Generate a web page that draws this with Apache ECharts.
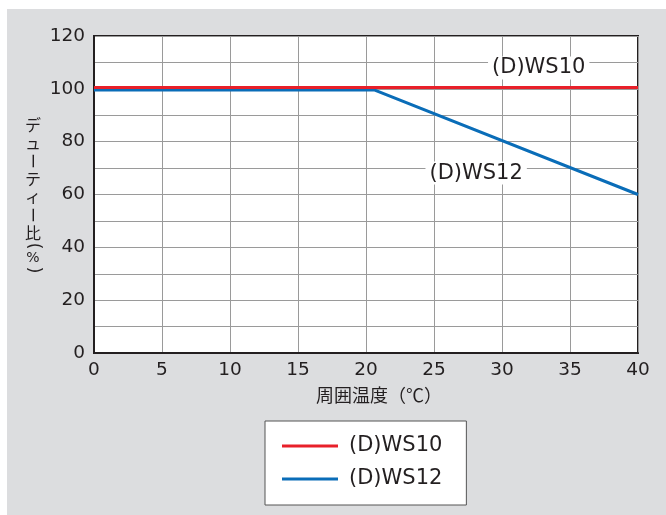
<!DOCTYPE html>
<html><head><meta charset="utf-8">
<script src="https://cdn.jsdelivr.net/npm/echarts@6/dist/echarts.min.js"></script>
<style>
html,body{margin:0;padding:0;background:#fff;}
#bg{position:absolute;left:7px;top:9px;width:659px;height:506px;background:#dcdddf;}
#c{position:absolute;left:0;top:0;width:666px;height:515px;}
</style></head>
<body><div id="bg"></div><div id="c"></div>
<script>
const temps = [0, 20.6, 40];
const ws10 = [100.5, 100.5, 100.5];
const ws12 = [99.6, 99.6, 60];
const seriesNames = ['(D)WS10', '(D)WS12'];
const labelPos10 = [32.7, 107.9];
const labelPos12 = [28.1, 68.1];
const yTicks = [0, 20, 40, 60, 80, 100, 120];
const xTicks = [0, 5, 10, 15, 20, 25, 30, 35, 40];
const xAxisName = '周囲温度（℃）';
const yAxisNameChars = ['デ', 'ュ', 'ー', 'テ', 'ィ', 'ー', '比', '(', '%', ')'];

const txt = '#231f20';
const latin = '"DejaVu Sans", "Noto Sans CJK JP", sans-serif';
const cjk = '"Noto Sans CJK JP", sans-serif';
const chart = echarts.init(document.getElementById('c'), null, {renderer: 'canvas'});

function lbl(name, pos) {
  return {
    symbol: 'rect', symbolSize: 1,
    itemStyle: {color: 'rgba(0,0,0,0)'},
    label: {show: true, position: 'inside', formatter: name, color: txt, fontSize: 21,
      fontFamily: latin, backgroundColor: '#fff', padding: [1, 4]},
    data: [{coord: pos}]
  };
}

// vertical y-axis title: upright chars, rotated brackets / long vowel marks
const rotated = new Set(['ー', '(', ')']);
const yNameGraphics = [];
let cy = 125;
yAxisNameChars.forEach((ch, i) => {
  const half = (ch === '(' || ch === ')' || ch === '%');
  if (i > 0) {
    const prevHalf = ['(', ')', '%'].includes(yAxisNameChars[i - 1]);
    cy += (half && prevHalf) ? 12 : (half ? 13 : (prevHalf ? 13 : 18));
  }
  yNameGraphics.push({
    type: 'text', x: 33, y: cy, rotation: rotated.has(ch) ? -Math.PI / 2 : 0,
    style: {text: ch, fill: txt, fontSize: ch === '%' ? 14 : (half ? 17 : 16),
      fontFamily: half ? latin : cjk,
      align: 'center', verticalAlign: 'middle'}
  });
});

chart.setOption({
  backgroundColor: 'transparent',
  animation: false,
  grid: {left: 94, right: 28, top: 36, bottom: 162, show: true, backgroundColor: '#fff',
    borderColor: txt, borderWidth: 2},
  xAxis: {
    type: 'value', min: 0, max: 40, interval: 5,
    name: xAxisName, nameLocation: 'middle', nameGap: 33,
    nameTextStyle: {color: txt, fontSize: 18, fontFamily: cjk, padding: [0, 0, 0, 26]},
    axisLine: {show: true, lineStyle: {color: txt, width: 2}},
    axisTick: {show: false},
    axisLabel: {color: txt, fontSize: 18.5, fontFamily: latin, margin: 8,
      formatter: v => xTicks.includes(v) ? String(v) : ''},
    splitLine: {show: true, lineStyle: {color: '#9a9a9a', width: 1}}
  },
  yAxis: {
    type: 'value', min: 0, max: 120, interval: 10,
    axisLine: {show: true, lineStyle: {color: txt, width: 2}},
    axisTick: {show: false},
    axisLabel: {color: txt, fontSize: 18.5, fontFamily: latin, margin: 9,
      formatter: v => yTicks.includes(v) ? String(v) : ''},
    splitLine: {show: true, lineStyle: {color: '#9a9a9a', width: 1}}
  },
  legend: {
    orient: 'vertical', left: 265, top: 421,
    data: seriesNames,
    icon: 'rect', itemWidth: 56, itemHeight: 3, itemGap: 9,
    padding: [13, 24, 14, 17],
    backgroundColor: '#fff', borderColor: '#555', borderWidth: 1,
    textStyle: {color: txt, fontSize: 21, fontFamily: latin, lineHeight: 24, padding: [0, 0, 0, 6]}
  },
  graphic: yNameGraphics,
  series: [
    {name: seriesNames[0], type: 'line', data: temps.map((t, i) => [t, ws10[i]]),
      symbol: 'none', lineStyle: {color: '#e8202a', width: 3}, itemStyle: {color: '#e8202a'},
      z: 3, markPoint: lbl(seriesNames[0], labelPos10)},
    {name: seriesNames[1], type: 'line', data: temps.map((t, i) => [t, ws12[i]]),
      symbol: 'none', lineStyle: {color: '#0a6db8', width: 3}, itemStyle: {color: '#0a6db8'},
      z: 2, markPoint: lbl(seriesNames[1], labelPos12)}
  ]
});
</script></body></html>
